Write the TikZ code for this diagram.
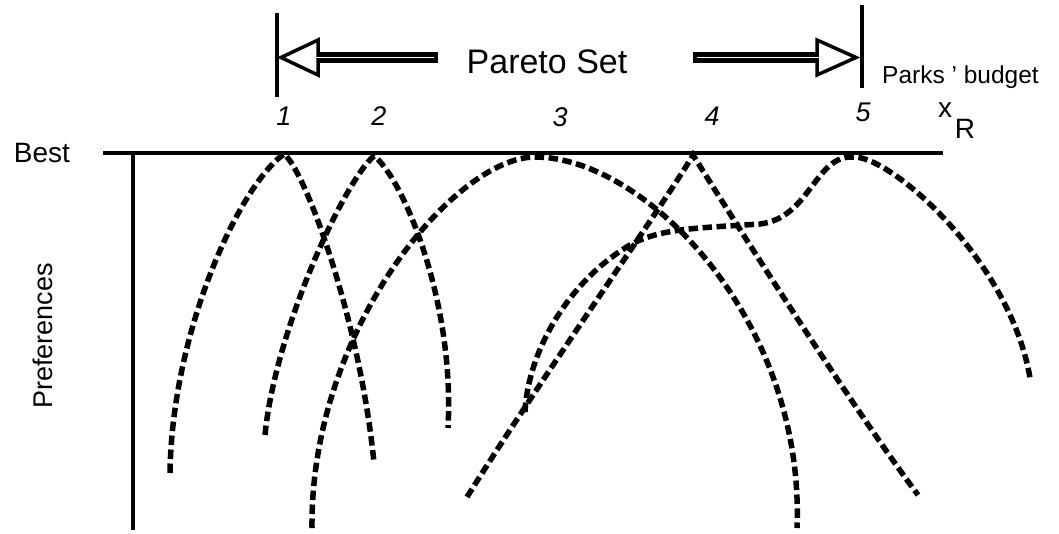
\documentclass[tikz,border=0pt]{standalone}
\usepackage{fontspec}
\setmainfont{Liberation Sans}
\begin{document}
\begin{tikzpicture}[x=1pt,y=-1pt,
  pref/.style={line width=5.5pt, dash pattern=on 9.5pt off 4.5pt},
  axisline/.style={line width=4.5pt},
  barline/.style={line width=4pt},
  headline/.style={line width=3.5pt, fill=white, line join=miter},
  lbl/.style={inner sep=0pt},
  num/.style={inner sep=0pt, font=\fontsize{27}{30}\selectfont\itshape},
]
\useasboundingbox (0,0) rectangle (1059,533);

% axes
\coordinate (bestL) at (103,153);
\coordinate (bestR) at (943,153);
\coordinate (yTop) at (133,151);
\coordinate (yBot) at (133,530);
\draw[axisline] (bestL) -- (bestR);
\draw[line width=4pt] (yTop) -- (yBot);

% Pareto set bars
\coordinate (lbT) at (277,13); \coordinate (lbB) at (277,97);
\coordinate (rbT) at (862,5);  \coordinate (rbB) at (862,88);
\draw[barline] (lbT) -- (lbB);
\draw[barline] (rbT) -- (rbB);

% left hollow arrow
\draw[headline] (281,57.5) -- (318,40) -- (318,75) -- cycle;
\fill (318,52) rectangle (438,63);
\draw[white, line width=1.5pt] (314,57.5) -- (434,57.5);
% right hollow arrow
\draw[headline] (856,57.5) -- (817,40) -- (817,75) -- cycle;
\fill (693,52) rectangle (817,63);
\draw[white, line width=1.5pt] (697,57.5) -- (821,57.5);

\node[lbl, font=\fontsize{34}{40}\selectfont] (pareto) at (547,62) {Pareto Set};
\node[lbl, font=\fontsize{24.5}{28}\selectfont, anchor=west] (budget) at (882,77) {Parks ' budget};
\node[lbl, font=\fontsize{28}{32}\selectfont] (best) at (42,153) {Best};
\node[lbl, font=\fontsize{27}{32}\selectfont, rotate=90] (prefs) at (43,336) {Preferences};

\node[num] (n1) at (284,116) {1};
\node[num] (n2) at (379,116) {2};
\node[num] (n3) at (560,117) {3};
\node[num] (n4) at (712,116) {4};
\node[num] (n5) at (863,112) {5};
\node[lbl, font=\fontsize{28}{32}\selectfont] (xx) at (945,110) {x};
\node[lbl, font=\fontsize{28}{32}\selectfont] (xR) at (965,129) {R};

% preference curves
% curve 1
\coordinate (p1) at (284,154);
\draw[pref] (170,473) .. controls (172,330) and (240,185) .. (p1)
                      .. controls (305,170) and (360,320) .. (374,463);
% curve 2
\coordinate (p2) at (374,156);
\draw[pref] (265,435) .. controls (275,330) and (345,180) .. (p2)
                      .. controls (402,177) and (455,300) .. (448,428);
% curve 3
\coordinate (p3) at (535,157);
\draw[pref] (312,528) .. controls (310,330) and (455,157) .. (p3)
                      .. controls (645,157) and (805,320) .. (797,528);
% curve 4
\coordinate (p4) at (693,155);
\draw[pref] (467,497) .. controls (540,380) and (670,195) .. (p4)
                      .. controls (715,190) and (840,390) .. (918,495);
% curve 5
\coordinate (p5) at (853,157);
\draw[pref] (525,412) .. controls (528,350) and (570,280) .. (630,245)
                      .. controls (660,228) and (700,228) .. (760,224)
                      .. controls (810,218) and (815,155) .. (p5)
                      .. controls (890,155) and (1010,260) .. (1030,378);
\end{tikzpicture}
\end{document}
